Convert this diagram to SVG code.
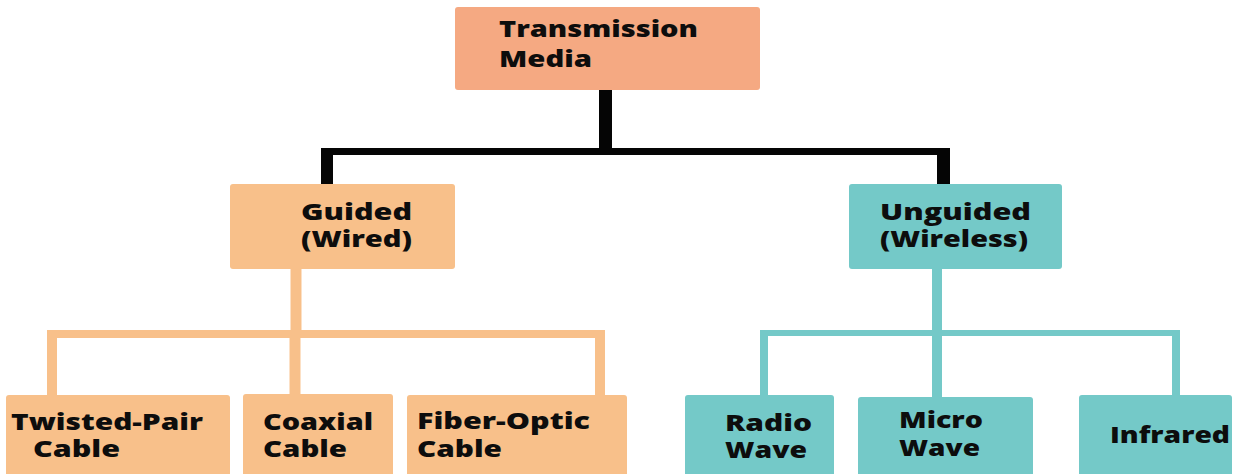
<svg xmlns="http://www.w3.org/2000/svg" width="1243" height="474" viewBox="0 0 1243 474">
  <style>
    .root { fill: #F5A982; }
    .wired { fill: #F8C08A; }
    .wireless { fill: #74C9C8; }
    .lbl { font-family: "Open Sans", "DejaVu Sans", sans-serif; font-weight: 800; font-size: 22px; fill: #0D0D0D; }
    .black { stroke: #050505; fill: none; }
    .orange { stroke: #F8C08A; fill: none; }
    .teal { stroke: #74C9C8; fill: none; }
  </style>
  <rect width="1243" height="474" fill="#FFFFFF"/>

  <!-- connectors -->
  <g id="connectors">
    <!-- root to first level -->
    <line class="black" x1="605.5" y1="88" x2="605.5" y2="152" stroke-width="13"/>
    <path class="black" d="M321 151.5 H950" stroke-width="7"/>
    <line class="black" x1="327" y1="148" x2="327" y2="186" stroke-width="12"/>
    <line class="black" x1="943.5" y1="148" x2="943.5" y2="186" stroke-width="13"/>
    <!-- guided branch -->
    <line class="orange" x1="296" y1="268" x2="296" y2="336" stroke-width="11"/>
    <path class="orange" d="M47 334 H605" stroke-width="8"/>
    <line class="orange" x1="52" y1="330" x2="52" y2="396" stroke-width="10"/>
    <line class="orange" x1="295" y1="334" x2="295" y2="396" stroke-width="11"/>
    <line class="orange" x1="600" y1="330" x2="600" y2="396" stroke-width="10"/>
    <!-- unguided branch -->
    <line class="teal" x1="937" y1="268" x2="937" y2="336" stroke-width="10"/>
    <path class="teal" d="M760 333 H1180" stroke-width="6"/>
    <line class="teal" x1="764" y1="330" x2="764" y2="396" stroke-width="8"/>
    <line class="teal" x1="937" y1="333" x2="937" y2="398" stroke-width="10"/>
    <line class="teal" x1="1176" y1="330" x2="1176" y2="396" stroke-width="8"/>
  </g>

  <g id="transmission-media">
    <rect class="root" x="455" y="7" width="305" height="83" rx="3"/>
    <text class="lbl" x="499" y="37" textLength="199" lengthAdjust="spacingAndGlyphs">Transmission</text>
    <text class="lbl" x="499" y="67" textLength="93" lengthAdjust="spacingAndGlyphs">Media</text>
  </g>

  <g id="guided">
    <rect class="wired" x="230" y="184" width="225" height="85" rx="3"/>
    <text class="lbl" x="301" y="220" textLength="111" lengthAdjust="spacingAndGlyphs">Guided</text>
    <text class="lbl" x="301" y="247" textLength="111" lengthAdjust="spacingAndGlyphs">(Wired)</text>
  </g>

  <g id="unguided">
    <rect class="wireless" x="849" y="184" width="213" height="85" rx="3"/>
    <text class="lbl" x="880" y="220" textLength="151" lengthAdjust="spacingAndGlyphs">Unguided</text>
    <text class="lbl" x="880" y="247" textLength="148" lengthAdjust="spacingAndGlyphs">(Wireless)</text>
  </g>

  <g id="twisted-pair">
    <rect class="wired" x="6" y="395" width="224" height="90" rx="3"/>
    <text class="lbl" x="11" y="430" textLength="192" lengthAdjust="spacingAndGlyphs">Twisted-Pair</text>
    <text class="lbl" x="33" y="457" textLength="87" lengthAdjust="spacingAndGlyphs">Cable</text>
  </g>

  <g id="coaxial">
    <rect class="wired" x="243" y="394" width="150" height="90" rx="3"/>
    <text class="lbl" x="263" y="430" textLength="110" lengthAdjust="spacingAndGlyphs">Coaxial</text>
    <text class="lbl" x="263" y="457" textLength="84" lengthAdjust="spacingAndGlyphs">Cable</text>
  </g>

  <g id="fiber-optic">
    <rect class="wired" x="407" y="395" width="220" height="90" rx="3"/>
    <text class="lbl" x="417" y="429" textLength="173" lengthAdjust="spacingAndGlyphs">Fiber-Optic</text>
    <text class="lbl" x="417" y="457" textLength="85" lengthAdjust="spacingAndGlyphs">Cable</text>
  </g>

  <g id="radio-wave">
    <rect class="wireless" x="685" y="395" width="149" height="90" rx="3"/>
    <text class="lbl" x="725" y="431" textLength="87" lengthAdjust="spacingAndGlyphs">Radio</text>
    <text class="lbl" x="725" y="458" textLength="82" lengthAdjust="spacingAndGlyphs">Wave</text>
  </g>

  <g id="micro-wave">
    <rect class="wireless" x="858" y="397" width="175" height="90" rx="3"/>
    <text class="lbl" x="899" y="428" textLength="84" lengthAdjust="spacingAndGlyphs">Micro</text>
    <text class="lbl" x="899" y="456" textLength="81" lengthAdjust="spacingAndGlyphs">Wave</text>
  </g>

  <g id="infrared">
    <rect class="wireless" x="1079" y="395" width="153" height="90" rx="3"/>
    <text class="lbl" x="1110" y="443" textLength="120" lengthAdjust="spacingAndGlyphs">Infrared</text>
  </g>
</svg>
